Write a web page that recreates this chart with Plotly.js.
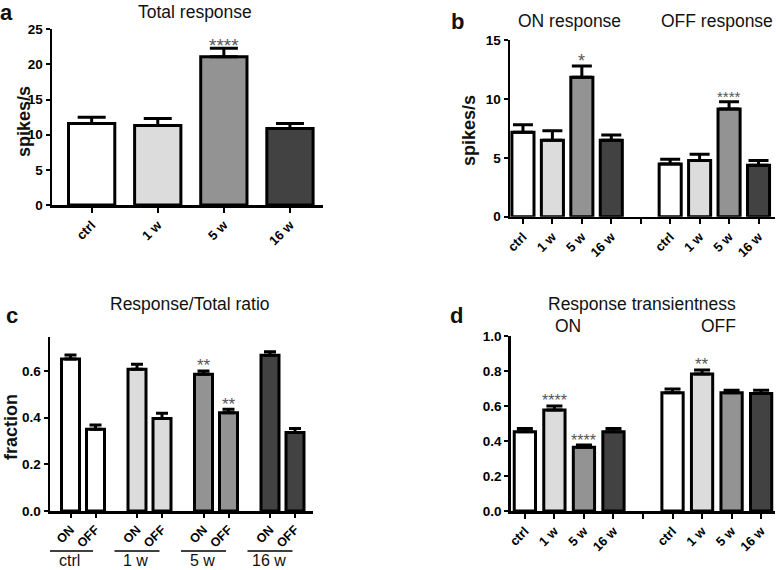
<!DOCTYPE html>
<html><head><meta charset="utf-8">
<script src="https://cdn.plot.ly/plotly-3.0.1.min.js"></script>
<style>html,body{margin:0;padding:0;background:#fff}#chart{width:776px;height:570px}</style>
</head><body><div id="chart"></div>
<script>
// ---- data ----
const groups = ['ctrl', '1 w', '5 w', '16 w'];
const barColors = ['#ffffff', '#dcdcdc', '#939393', '#424242'];
const totalMean = [11.6, 11.3, 21.1, 10.9];
const totalSem = [0.9, 1.0, 1.2, 0.7];
const onMean = [7.17, 6.5, 11.83, 6.48];
const onSem = [0.63, 0.8, 0.97, 0.45];
const offMean = [4.47, 4.78, 9.14, 4.36];
const offSem = [0.4, 0.52, 0.62, 0.42];
const ratioLabels = ['ON', 'OFF'];
const ratioOnMean = [0.651, 0.607, 0.586, 0.667];
const ratioOnSem = [0.018, 0.022, 0.014, 0.016];
const ratioOffMean = [0.350, 0.396, 0.421, 0.336];
const ratioOffSem = [0.019, 0.023, 0.015, 0.018];
const transOnMean = [0.453, 0.577, 0.364, 0.453];
const transOnSem = [0.019, 0.023, 0.013, 0.019];
const transOffMean = [0.676, 0.783, 0.676, 0.672];
const transOffSem = [0.021, 0.023, 0.014, 0.018];
const totalStars = ['', '', '****', ''];
const onStars = ['', '', '*', ''];
const offStars = ['', '', '****', ''];
const ratioOnStars = ['', '', '**', ''];
const ratioOffStars = ['', '', '**', ''];
const transOnStars = ['', '****', '****', ''];
const transOffStars = ['', '**', '', ''];

// ---- helpers ----
const W = 776, H = 570;
const px = x => x / W;
const py = y => 1 - y / H;
const FONT = 'Liberation Sans, Arial, sans-serif';
const zeros = groups.map(() => 0);

function barTrace(x, y, sem, xa, ya, w, capw) {
  return {
    type: 'bar', x: x, y: y, xaxis: xa, yaxis: ya, width: w,
    marker: { color: barColors, line: { color: '#000', width: 3 } },
    error_y: { type: 'data', symmetric: false, array: sem, arrayminus: zeros,
               color: '#000', thickness: 3, width: capw },
    showlegend: false, hoverinfo: 'none'
  };
}
const annotations = [];
const shapes = [];
function stars(x, y, sem, labels, xa, ya, shift, size) {
  labels.forEach((s, i) => {
    if (!s) return;
    annotations.push({ x: x[i], y: y[i] + sem[i], xref: xa, yref: ya, text: s,
      showarrow: false, yanchor: 'middle', yshift: shift,
      font: { family: FONT, size: size, color: '#555' } });
  });
}
function txt(x, y, t, size, opts, fontOpts) {
  annotations.push(Object.assign({ x: px(x), y: py(y), xref: 'paper', yref: 'paper', text: t,
    showarrow: false, xanchor: 'center', yanchor: 'middle',
    font: Object.assign({ family: FONT, size: size, color: '#111' }, fontOpts || {}) }, opts || {}));
}

const idx = groups.map((g, i) => i);
const bOn = idx, bOff = idx.map(i => i + 5);
const G = 2.66;
const cOn = idx.map(i => i * G), cOff = idx.map(i => i * G + 1);

const traces = [
  barTrace(idx, totalMean, totalSem, 'x', 'y', 0.7, 14),
  barTrace(bOn, onMean, onSem, 'x2', 'y2', 0.75, 10),
  barTrace(bOff, offMean, offSem, 'x2', 'y2', 0.75, 10),
  barTrace(cOn, ratioOnMean, ratioOnSem, 'x3', 'y3', 0.72, 6),
  barTrace(cOff, ratioOffMean, ratioOffSem, 'x3', 'y3', 0.72, 6),
  barTrace(bOn, transOnMean, transOnSem, 'x4', 'y4', 0.72, 8),
  barTrace(bOff, transOffMean, transOffSem, 'x4', 'y4', 0.72, 8)
];

stars(idx, totalMean, totalSem, totalStars, 'x', 'y', 3, 19);
stars(bOn, onMean, onSem, onStars, 'x2', 'y2', 5, 18);
stars(bOff, offMean, offSem, offStars, 'x2', 'y2', 5, 15);
stars(cOn, ratioOnMean, ratioOnSem, ratioOnStars, 'x3', 'y3', 5, 17);
stars(cOff, ratioOffMean, ratioOffSem, ratioOffStars, 'x3', 'y3', 5, 17);
stars(bOn, transOnMean, transOnSem, transOnStars, 'x4', 'y4', 5, 16);
stars(bOff, transOffMean, transOffSem, transOffStars, 'x4', 'y4', 5, 17);

// titles & labels
txt(6, 13, '<b>a</b>', 22);
txt(457, 21, '<b>b</b>', 22);
txt(12, 316, '<b>c</b>', 22);
txt(456, 315, '<b>d</b>', 22);
txt(195, 0, 'Total response', 17.5, { yanchor: 'top' });
txt(569, 21, 'ON response', 17.5);
txt(717, 21, 'OFF response', 17.5);
txt(190, 304, 'Response/Total ratio', 17.5);
txt(642, 304, 'Response transientness', 17.5);
txt(568, 326, 'ON', 17.5);
txt(718, 326, 'OFF', 17.5);
txt(24, 122, 'spikes/s', 18, { textangle: -90 }, { weight: 'bold' });
txt(469, 130, 'spikes/s', 18, { textangle: -90 }, { weight: 'bold' });
txt(11, 427, 'fraction', 18, { textangle: -90 }, { weight: 'bold' });

groups.forEach((g, i) => {
  shapes.push({ type: 'line', xref: 'x3', yref: 'paper', x0: cOn[i] - 0.9, x1: cOn[i] + 0.9,
    y0: py(551), y1: py(551), line: { color: '#000', width: 1.5 } });
  annotations.push({ x: cOn[i] - 0.05, y: 0, xref: 'x3', yref: 'paper', text: g, showarrow: false,
    xanchor: 'center', yanchor: 'bottom', borderpad: 0,
    font: { family: FONT, size: 16, color: '#111' } });
});

const tickFontX = { family: FONT, size: 13, color: '#000', weight: 'bold' };
const tickFontY = { family: FONT, size: 13.5, color: '#000', weight: 'bold' };
const axBase = {
  showline: true, linecolor: '#000', linewidth: 2.5, ticks: 'outside', ticklen: 5,
  tickwidth: 2, tickcolor: '#000', showgrid: false, zeroline: false, fixedrange: true,
  tickfont: tickFontX
};
const ax = o => Object.assign({}, axBase, o);
const bTicks = [0, 1, 2, 3, 4, 5, 6, 7, 8];
const bText = groups.concat([''], groups);

const layout = {
  width: W, height: H, margin: { l: 0, r: 0, t: 0, b: 0 },
  paper_bgcolor: '#fff', plot_bgcolor: '#fff', bargap: 0,
  xaxis: ax({ domain: [px(52), px(323)], range: [-0.6, 3.5], anchor: 'y',
    tickmode: 'array', tickvals: idx, ticktext: groups, tickangle: -45 }),
  yaxis: ax({ domain: [py(205), py(29.3)], range: [0, 25], anchor: 'x', ticklen: 4,
    tickmode: 'array', tickvals: [0, 5, 10, 15, 20, 25], tickfont: tickFontY }),
  xaxis2: ax({ domain: [px(510), px(775)], range: [-0.44, 8.56], anchor: 'y2',
    tickmode: 'array', tickvals: bTicks, ticktext: bText, tickangle: -45 }),
  yaxis2: ax({ domain: [py(216.7), py(40)], range: [0, 15], anchor: 'x2', ticklen: 4,
    tickmode: 'array', tickvals: [0, 5, 10, 15], tickfont: tickFontY }),
  xaxis3: ax({ domain: [px(50), px(313)], range: [-0.82, 9.7], anchor: 'y3', ticklen: 4,
    tickfont: { family: FONT, size: 12.5, color: '#000', weight: 'bold' },
    tickmode: 'array', tickvals: cOn.concat(cOff), ticktext: cOn.map(() => ratioLabels[0]).concat(cOff.map(() => ratioLabels[1])), tickangle: -45 }),
  yaxis3: ax({ domain: [py(511), py(336.7)], range: [0, 0.747], anchor: 'x3', ticklen: 4,
    tickmode: 'array', tickvals: [0, 0.2, 0.4, 0.6], tickformat: '.1f', tickfont: tickFontY }),
  xaxis4: ax({ domain: [px(510.7), px(775)], range: [-0.48, 8.47], anchor: 'y4',
    tickmode: 'array', tickvals: bTicks, ticktext: bText, tickangle: -45 }),
  yaxis4: ax({ domain: [py(511), py(336)], range: [0, 1], anchor: 'x4', ticklen: 4,
    tickmode: 'array', tickvals: [0, 0.2, 0.4, 0.6, 0.8, 1.0], tickformat: '.1f', tickfont: tickFontY }),
  annotations: annotations, shapes: shapes
};

Plotly.newPlot('chart', traces, layout, { displayModeBar: false, staticPlot: true });
</script>
</body></html>
